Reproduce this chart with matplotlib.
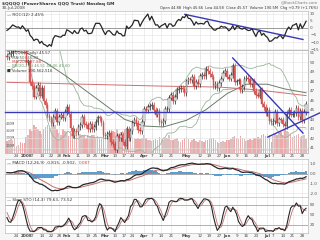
import numpy as np
import matplotlib
matplotlib.use('Agg')
import matplotlib.pyplot as plt
from matplotlib import transforms

# ---------------- data ----------------
pre_closes = [50.9, 50.0, 50.4, 49.4, 50.3, 48.9, 49.6, 51.2, 51.5, 51.3,
              50.7, 50.3, 51.2, 51.9, 51.9, 52.2, 51.0, 51.3, 51.2, 50.7]
closes = [
    # Dec 2007
    50.6, 50.9, 51.0, 51.4, 51.9, 52.2, 52.3, 51.9, 51.8, 51.2,
    # Jan 2008
    50.0, 50.1, 47.9, 47.5, 46.4, 47.3, 47.6, 46.5, 47.3, 45.9, 45.5, 44.4, 44.1,
    43.6, 44.3, 44.9, 43.7, 44.3, 44.5, 44.1, 44.8,
    # Feb
    45.3, 44.6, 43.1, 42.3, 42.8, 42.7, 43.2, 43.4, 44.3, 43.5, 43.4, 43.0, 43.5,
    43.0, 43.2, 43.7, 44.2, 44.1, 43.6, 42.4,
    # Mar
    42.2, 42.5, 42.6, 41.6, 41.4, 40.8, 42.3, 42.0, 42.4, 41.6, 41.2, 43.0, 42.0,
    42.8, 43.6, 43.9, 43.6, 42.9, 42.8, 43.7,
    # Apr
    45.1, 45.0, 45.3, 45.4, 45.5, 45.0, 44.5, 44.9, 43.7, 43.6, 43.8, 45.1, 45.1,
    46.3, 46.6, 45.9, 46.4, 47.1, 47.2, 47.3, 47.2, 46.8,
    # May
    48.0, 48.2, 48.1, 48.5, 47.5, 47.9, 47.7, 48.6, 48.7, 48.6, 49.3, 49.1, 48.8,
    48.5, 47.5, 47.7, 47.3, 47.8, 48.3, 48.9, 49.1,
    # Jun
    48.5, 48.3, 48.7, 49.6, 47.9, 48.0, 48.1, 47.1, 47.4, 48.3, 48.4, 48.2, 47.7,
    48.1, 47.0, 46.6, 46.5, 47.1, 45.6, 45.3, 44.7,
    # Jul
    45.0, 43.8, 43.7, 43.8, 44.8, 43.6, 44.0, 43.9, 43.5, 43.3, 44.6, 45.0, 44.5,
    44.6, 44.7, 45.2, 44.2, 44.9, 43.9, 44.8, 45.6,
]
volume_m = [
    160, 175, 190, 180, 210, 90, 110, 150, 130, 140,
    220, 240, 330, 300, 380, 350, 330, 300, 260, 330, 360, 380, 340, 420, 460, 380,
    330, 270, 250, 320, 300,
    280, 230, 300, 290, 280, 240, 230, 260, 240, 230, 210, 240, 230, 250, 240, 210,
    230, 200, 190, 270,
    240, 260, 230, 270, 300, 290, 320, 260, 290, 300, 330, 340, 280, 250, 210, 200,
    190, 210, 190, 200,
    250, 210, 180, 170, 160, 170, 190, 180, 220, 190, 180, 210, 200, 240, 170, 180,
    190, 200, 160, 150, 170, 210,
    220, 190, 150, 170, 190, 160, 150, 170, 160, 150, 180, 170, 190, 200, 210, 170,
    150, 130, 150, 160, 150,
    170, 180, 190, 220, 230, 200, 190, 230, 200, 190, 160, 170, 190, 180, 210, 200,
    220, 210, 250, 260, 230,
    260, 250, 150, 230, 260, 250, 270, 280, 240, 330, 300, 290, 260, 220, 230, 240,
    260, 220, 230, 240, 190,
]
ma50_idx = [0, 10, 20, 31, 41, 51, 61, 71, 81, 93, 103, 114, 124, 135, 144, 155]
ma50_val = [51.3, 51.0, 50.0, 48.5, 47.0, 45.5, 44.0, 43.3, 43.2, 43.9, 45.0, 46.7,
            47.7, 47.7, 47.2, 46.8]
ma200_idx = [0, 40, 80, 110, 130, 155]
ma200_val = [47.9, 47.7, 47.5, 47.4, 47.1, 46.5]

tick_idx = [5, 10, 13, 18, 23, 27, 31, 37, 42, 46, 51, 56, 61, 65, 71, 75, 80, 85,
            93, 100, 105, 110, 114, 119, 124, 129, 135, 138, 143, 148, 153]
tick_labels = ['24', '2008', '7', '14', '22', '28', 'Feb', '11', '19', '25', 'Mar',
               '10', '17', '24', 'Apr', '7', '14', '21', 'May', '12', '19', '27',
               'Jun', '9', '16', '23', 'Jul', '7', '14', '21', '28']
bold_labels = ['2008', 'Feb', 'Mar', 'Apr', 'May', 'Jun', 'Jul']

price_ticks = [41, 42, 43, 44, 45, 46, 47, 48, 49, 50, 51]
roc_ticks = [10, 5, 0, -5, -10, -15]
macd_ticks = [1.0, 0.0, -1.0, -2.0]
stoch_ticks = [80, 50, 20]
vol_ticks = [100, 200, 300, 400]

price_trend = [((-1, 44.77), (156, 44.77)),
               ((117, 50.46), (153.4, 42.56)),
               ((135.2, 42.14), (162, 44.67))]
roc_trend = ((92.2, 9.7), (153.4, -8.2))

# ---------------- indicators ----------------
allc = np.array(pre_closes + closes, dtype=float)
npre = len(pre_closes)
cl = np.array(closes, dtype=float)
n = len(cl)
xs = np.arange(n)
opens = allc[npre - 1:npre - 1 + n]

roc = (allc[npre:] / allc[npre - 12:npre - 12 + n] - 1) * 100

bb_mid = np.array([allc[j - 19:j + 1].mean() for j in range(npre, npre + n)])
bb_sd = np.array([allc[j - 19:j + 1].std() for j in range(npre, npre + n)])
bb_up, bb_lo = bb_mid + 2 * bb_sd, bb_mid - 2 * bb_sd


def ema(a, span):
    k = 2 / (span + 1)
    out = np.empty_like(a)
    out[0] = a[0]
    for i in range(1, len(a)):
        out[i] = a[i] * k + out[i - 1] * (1 - k)
    return out


macd_all = ema(allc, 12) - ema(allc, 26)
sig_all = ema(macd_all, 9)
macd = macd_all[npre:]
sig = sig_all[npre:]
hist = macd - sig

fastk = np.array([(allc[j] - allc[j - 13:j + 1].min()) /
                  (allc[j - 13:j + 1].max() - allc[j - 13:j + 1].min()) * 100
                  for j in range(npre - 4, npre + n)])
slowk_all = np.convolve(fastk, np.ones(3) / 3, mode='valid')
slowd_all = np.convolve(slowk_all, np.ones(3) / 3, mode='valid')
slowk = slowk_all[-n:]
slowd = slowd_all[-n:]

# ---------------- figure ----------------
W, H = 320, 240
fig = plt.figure(figsize=(3.2, 2.4), dpi=100, facecolor='#f6f6f6')


def rect(x0, y0, x1, y1):
    return [x0 / W, 1 - y1 / H, (x1 - x0) / W, (y1 - y0) / H]


XL, XR = 5, 308
grid_c = '#e2e2e2'
spine_c = '#bdbdbd'
FS = 3.0
INK = '#262626'


def style(ax, yticks, ylim, fmt='{:g}'):
    ax.set_xlim(-1, 156)
    ax.set_ylim(*ylim)
    ax.set_facecolor('white')
    for s in ax.spines.values():
        s.set_color(spine_c)
        s.set_linewidth(0.5)
    ax.yaxis.tick_right()
    ax.set_yticks(yticks)
    ax.set_yticklabels([fmt.format(t) for t in yticks])
    ax.tick_params(axis='y', length=0, pad=1.5, labelsize=FS, colors='#555555')
    ax.set_xticks(tick_idx)
    ax.tick_params(axis='x', length=0, labelbottom=False)
    for t in tick_idx:
        ax.axvline(t, color=grid_c, lw=0.4, zorder=0)
    for t in yticks:
        ax.axhline(t, color=grid_c, lw=0.4, zorder=0)
    ax.set_ylim(*ylim)


def date_labels(ax):
    ax.tick_params(axis='x', labelbottom=True, pad=1, labelsize=FS,
                   colors='#444444')
    ax.set_xticklabels(tick_labels)
    for lab in ax.get_xticklabels():
        if lab.get_text() in bold_labels:
            lab.set_fontweight('bold')


# header
fig.text(2 / W, 1 - 3.5 / H, '$QQQQ (PowerShares QQQ Trust) Nasdaq GM', fontsize=3.2,
         fontweight='bold', color='#333333', va='center')
fig.text(318 / W, 1 - 2.5 / H, '@StockCharts.com', fontsize=2.8, color='#777777',
         ha='right', va='center')
fig.text(2 / W, 1 - 8.5 / H, '30-Jul-2008', fontsize=3.0, color='#444444', va='center')
fig.text(318 / W, 1 - 8.5 / H,
         'Open 44.88  High 45.66  Low 44.58  Close 45.57  Volume 190.5M  Chg +0.79 (+1.76%)',
         fontsize=2.6, color='#333333', ha='right', va='center')

# ROC panel (plain construction, drawn above the others)
ax_r = fig.add_axes(rect(XL, 11, XR, 50), label='roc')
ax_r.set_zorder(3)
ax_r.set_xlim(-1, 156)
ax_r.set_ylim(-15.7, 12.1)
ax_r.yaxis.tick_right()
ax_r.set_yticks(roc_ticks)
ax_r.set_xticks(tick_idx)
for t in tick_idx:
    ax_r.axvline(t, color=grid_c, lw=0.4, zorder=0)
for t in roc_ticks:
    ax_r.axhline(t, color=grid_c, lw=0.4, zorder=0)
ax_r.axhline(0, color='#8c8c8c', lw=0.6, zorder=1)
ax_r.plot(xs, roc, color=INK, lw=0.9, zorder=7)
(rx0, ry0), (rx1, ry1) = roc_trend
ax_r.plot([rx0, rx1], [ry0, ry1], color='#3838b8', lw=1.0, zorder=6)
ax_r.set_xlim(-1, 156)
ax_r.set_ylim(-15.7, 12.1)
ax_r.tick_params(axis='y', length=0, pad=1.5, labelsize=FS, colors='#555555')
ax_r.tick_params(axis='x', length=0, labelbottom=False)
for s in ax_r.spines.values():
    s.set_color(spine_c)
    s.set_linewidth(0.5)
ax_r.text(0.008, 0.95, '— ROC(12) 2.45%', transform=ax_r.transAxes, fontsize=FS,
          color='#333333', va='top')

# Price panel with volume beneath
prect = rect(XL, 50, XR, 153)
ax_v = fig.add_axes(prect, label='volume')
style(ax_v, price_ticks, (0, 1400))
ax_v.set_yticks([])
ax_v.set_ylim(0, 1400)
vcol = ['#f0a8a8' if cl[i] < opens[i] else '#dcc0c0' for i in range(n)]
ax_v.bar(xs, volume_m, width=0.8, color=vcol, zorder=2)
tr = transforms.blended_transform_factory(ax_v.transAxes, ax_v.transData)
for t in vol_ticks:
    ax_v.text(0.002, t, f'{t}M', transform=tr, fontsize=2.4, color='#555555',
              va='center', ha='left')

ax_p = fig.add_axes(prect, label='price')
style(ax_p, price_ticks, (40.46, 51.3))
ax_p.patch.set_visible(False)
for i in range(n):
    lo, hi = min(opens[i], cl[i]), max(opens[i], cl[i])
    up = cl[i] >= opens[i]
    col = '#222222' if up else '#d04040'
    ax_p.vlines(i, lo - 0.3, hi + 0.3, color=col, lw=0.5, zorder=4)
    ax_p.bar(i, max(hi - lo, 0.04), bottom=lo, width=0.75,
             color='white' if up else '#e06060', edgecolor=col, lw=0.3, zorder=5)
ax_p.plot(xs, bb_up, color='#9cb49c', lw=0.6, zorder=3)
ax_p.plot(xs, bb_lo, color='#9cb49c', lw=0.6, zorder=3)
ax_p.plot(ma50_idx, ma50_val, color='#6a7d6a', lw=0.7, zorder=3)
ax_p.plot(ma200_idx, ma200_val, color='#d07070', lw=0.7, zorder=3)
for (a0, b0), (a1, b1) in price_trend:
    ax_p.plot([a0, a1], [b0, b1], color='#3838b8', lw=1.0, zorder=6, clip_on=False)
ax_p.set_xlim(-1, 156)
ax_p.set_ylim(40.46, 51.3)
leg = [('▽ QQQQ (Daily) 45.57', '#333333'), ('— MA(50) 46.82', '#556655'),
       ('— MA(200) 47.88', '#cc4444'), ('— BB(20,2.0) 46.51 44.06 41.60', '#669966'),
       ('■ Volume 190,562,516', '#333333')]
for k, (s, col) in enumerate(leg):
    ax_p.text(0.008, 1 - (1.5 + k * 4.3) / 103, s, transform=ax_p.transAxes,
              fontsize=2.8, color=col, va='top', zorder=7)
date_labels(ax_p)

# MACD panel
ax_m = fig.add_axes(rect(XL, 159, XR, 197), label='macd')
style(ax_m, macd_ticks, (-2.4, 1.5), fmt='{:.1f}')
ax_m.bar(xs, hist, width=1.0, color='#5a9fd0', zorder=2)
ax_m.axhline(0, color='#8c8c8c', lw=0.5, zorder=1)
ax_m.plot(xs, sig, color='#c07070', lw=0.7, zorder=6)
ax_m.plot(xs, macd, color=INK, lw=0.9, zorder=7)
ax_m.set_ylim(-2.4, 1.5)
ax_m.text(0.008, 0.96, '— MACD (12,26,9) -0.815, -0.902,', transform=ax_m.transAxes,
          fontsize=FS, color='#333333', va='top')
ax_m.text(0.245, 0.96, '0.087', transform=ax_m.transAxes, fontsize=FS,
          color='#cc4444', va='top')

# Stochastics panel
ax_s = fig.add_axes(rect(XL, 197, XR, 233), label='stoch')
style(ax_s, stoch_ticks, (-4, 104))
for lv in (80, 20):
    ax_s.axhline(lv, color='#9a9a9a', lw=0.5, zorder=1)
ax_s.plot(xs, slowd, color='#c07070', lw=0.6, zorder=6)
ax_s.plot(xs, slowk, color=INK, lw=0.8, zorder=7)
ax_s.set_ylim(-4, 104)
ax_s.text(0.008, 0.96, '— Slow STO (14,3) 79.63, 73.52', transform=ax_s.transAxes,
          fontsize=FS, color='#333333', va='top')
date_labels(ax_s)

fig.savefig('out.png', dpi=100, facecolor=fig.get_facecolor())
